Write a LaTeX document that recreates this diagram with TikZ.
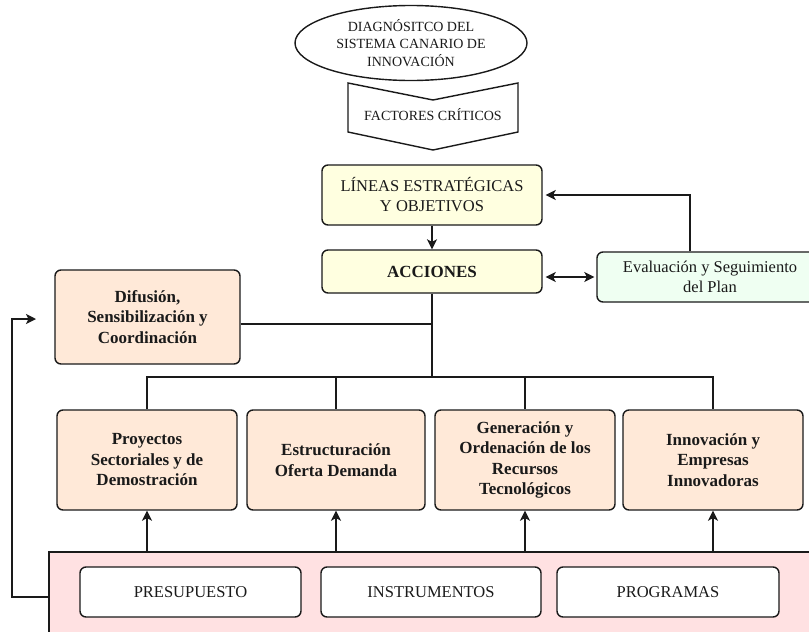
\documentclass[tikz,border=0pt]{standalone}
\usepackage{fontspec}
\setmainfont{Liberation Serif}
\usetikzlibrary{arrows.meta,shapes.geometric,calc}
\definecolor{yelfill}{HTML}{FFFFE0}
\definecolor{greenfill}{HTML}{EFFFF2}
\definecolor{peachfill}{HTML}{FFE9D8}
\definecolor{pinkfill}{HTML}{FFE1E2}
\definecolor{ink}{HTML}{1A1A1A}
\tikzset{
  box/.style={draw=ink, line width=1.4pt, rounded corners=6pt, align=center, inner sep=0pt, text=ink},
  plainbox/.style={box, font=\fontsize{16.5}{20}\selectfont},
  boldbox/.style={box, fill=peachfill, font=\fontsize{17}{20.5}\selectfont\bfseries},
  link/.style={draw=ink, line width=1.4pt},
  tip/.tip={Stealth[length=10pt,width=10pt,inset=2.5pt]},
  arrow/.style={link, -tip},
  biarrow/.style={link, tip-tip},
}
\begin{document}
\begin{tikzpicture}[x=1pt,y=-1pt]
\clip (0,0) rectangle (809,632);
\fill[white] (0,0) rectangle (809,632);

% diagnosis ellipse and critical factors chevron
\node[ellipse, draw=ink, line width=1.4pt, minimum width=232, minimum height=75, inner sep=0pt,
      align=center, font=\fontsize{14}{17.5}\selectfont, text=ink] (diag) at (411,43)
  {DIAGNÓSITCO DEL\\SISTEMA CANARIO DE\\INNOVACIÓN};
\draw[ink, line width=1.4pt] (348,83) -- (433,100) -- (518,83) -- (518,132) -- (433,150) -- (348,132) -- cycle;
\node[font=\fontsize{14}{17}\selectfont, text=ink, inner sep=0pt] (fact) at (433,115) {FACTORES CRÍTICOS};

% strategy, actions and evaluation
\node[plainbox, fill=yelfill, minimum width=220, minimum height=60] (lin) at (432,195)
  {LÍNEAS ESTRATÉGICAS\\Y OBJETIVOS};
\node[box, fill=yelfill, minimum width=220, minimum height=43,
      font=\fontsize{17}{20.5}\selectfont\bfseries] (acc) at (432,271.5) {ACCIONES};
\node[plainbox, fill=greenfill, minimum width=226, minimum height=50] (eva) at (710,277)
  {Evaluación y Seguimiento\\del Plan};

% action areas
\node[boldbox, minimum width=185, minimum height=94] (dif) at (147.5,317)
  {Difusión,\\Sensibilización y\\Coordinación};
\node[boldbox, minimum width=180, minimum height=100] (p1) at (147,460)
  {Proyectos\\Sectoriales y de\\Demostración};
\node[boldbox, minimum width=178, minimum height=100] (p2) at (336,460)
  {Estructuración\\Oferta Demanda};
\node[boldbox, minimum width=180, minimum height=100] (p3) at (525,460)
  {Generación y\\Ordenación de los\\Recursos\\Tecnológicos};
\node[boldbox, minimum width=180, minimum height=100] (p4) at (713,460)
  {Innovación y\\Empresas\\Innovadoras};

% resources panel
\node[draw=ink, line width=1.4pt, fill=pinkfill, minimum width=781, minimum height=98, inner sep=0pt]
  (pan) at (439.5,601) {};
\node[plainbox, fill=white, minimum width=221, minimum height=50] (pre) at (190.5,592) {PRESUPUESTO};
\node[plainbox, fill=white, minimum width=220, minimum height=50] (ins) at (431,592) {INSTRUMENTOS};
\node[plainbox, fill=white, minimum width=222, minimum height=50] (prg) at (668,592) {PROGRAMAS};

% connectors
\draw[arrow] (lin) -- (acc);
\draw[biarrow, shorten <=3pt, shorten >=2pt] (acc.east |- 0,277) -- (eva.west);
\draw[arrow, shorten >=3pt] (690,0 |- eva.north) |- (lin.east);

\coordinate (bus) at (432,377);
\draw[link] (acc.south) -- (bus);
\draw[link] (dif.east |- 0,324) -- (acc.south |- 0,324);
\draw[link] (p1.north) -- (p1.north |- bus) -- (p4.north |- bus) -- (p4.north);
\draw[link] (p2.north |- bus) -- (p2.north);
\draw[link] (p3.north |- bus) -- (p3.north);

\draw[arrow] (p1.south |- pan.north) -- (p1.south);
\draw[arrow] (p2.south |- pan.north) -- (p2.south);
\draw[arrow] (p3.south |- pan.north) -- (p3.south);
\draw[arrow] (p4.south |- pan.north) -- (p4.south);

\coordinate (fbturn) at (12,319);
\coordinate (fbend) at (36,319);
\draw[arrow] (pan.west |- 0,597) -| (fbturn) -- (fbend);
\end{tikzpicture}
\end{document}
